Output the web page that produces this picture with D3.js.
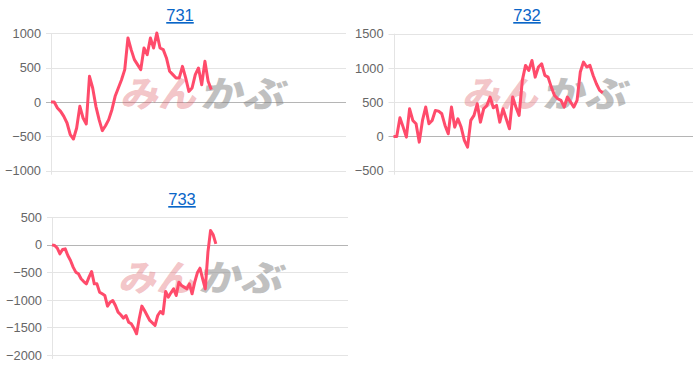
<!DOCTYPE html>
<html><head><meta charset="utf-8">
<script src="https://cdn.jsdelivr.net/npm/d3@7"></script>
<style>
html,body{margin:0;padding:0;background:#fff;}
svg{display:block;}
</style></head>
<body>
<svg id="c" width="700" height="368"></svg>
<script>
const titles = ["731", "732", "733"];
const values731 = [0,0,-87,-136,-209,-306,-476,-539,-379,-63,-233,-320,374,204,-63,-257,-417,-345,-257,-112,83,204,325,471,932,762,617,544,471,786,689,932,786,1005,786,762,641,447,398,350,350,519,350,155,204,398,495,252,592,301,180];
const values732 = [0,0,273,136,-10,404,234,185,-83,234,429,185,234,380,370,331,161,39,429,136,258,136,-58,-156,234,307,477,209,404,453,575,419,453,209,404,258,112,575,429,307,818,1037,964,1110,866,1013,1061,891,866,720,599,550,526,429,575,502,429,526,940,1086,1013,1037,891,769,672,637];
const values733 = [0,-12,-60,-163,-85,-73,-194,-284,-405,-496,-526,-617,-666,-708,-587,-484,-708,-708,-859,-889,-920,-1113,-1041,-1010,-1101,-1222,-1270,-1331,-1283,-1404,-1434,-1513,-1615,-1343,-1113,-1192,-1283,-1373,-1416,-1464,-1283,-1210,-1252,-847,-950,-871,-799,-920,-678,-738,-768,-799,-708,-889,-678,-508,-424,-617,-799,-133,260,182,18];
const yTicks731 = [-1000, -500, 0, 500, 1000];
const yTicks732 = [-500, 0, 500, 1000, 1500];
const yTicks733 = [-2000, -1500, -1000, -500, 0, 500];
const xCounts = [93, 94, 113];
const watermarkA = "みん";
const watermarkB = "かぶ";

const series = [values731, values732, values733];
const tickSets = [yTicks731, yTicks732, yTicks733];

// layout (pixels)
const panels = [
  {left: 51, right: 346, top: 33.3, bottom: 170.7, titleX: 180, titleY: 21, wmX: 120, wmY: 107},
  {left: 393.5, right: 693, top: 33.7, bottom: 170.7, titleX: 527, titleY: 21, wmX: 462, wmY: 107},
  {left: 52, right: 348, top: 217.3, bottom: 355, titleX: 182, titleY: 205, wmX: 118, wmY: 291}
];

const svg = d3.select("#c");

panels.forEach((p, i) => {
  const ticks = tickSets[i];
  const vals = series[i];
  const x = d3.scaleLinear().domain([0, xCounts[i] - 1]).range([p.left, p.right]);
  const y = d3.scaleLinear().domain([d3.min(ticks), d3.max(ticks)]).range([p.bottom, p.top]);
  const g = svg.append("g");

  // title
  g.append("text")
    .attr("x", p.titleX).attr("y", p.titleY)
    .attr("text-anchor", "middle")
    .attr("font-family", "Liberation Sans, Arial, sans-serif")
    .attr("font-size", 16.5)
    .attr("fill", "#0a66c8")
    .attr("text-decoration", "underline")
    .text(titles[i]);

  // gridlines
  g.selectAll("line.grid").data(ticks).enter().append("line")
    .attr("x1", p.left - 5).attr("x2", p.right)
    .attr("y1", d => Math.round(y(d)) + 0.5).attr("y2", d => Math.round(y(d)) + 0.5)
    .attr("stroke", d => d === 0 ? "#b5b5b5" : "#e4e4e4")
    .attr("stroke-width", 1);

  // y axis line
  g.append("line")
    .attr("x1", Math.round(p.left) + 0.5).attr("x2", Math.round(p.left) + 0.5)
    .attr("y1", p.top).attr("y2", p.bottom + 4)
    .attr("stroke", "#e4e4e4");

  // tick labels via axis
  const ax = g.append("g")
    .attr("transform", `translate(${p.left - 8},0)`)
    .call(d3.axisLeft(y).tickValues(ticks).tickSize(0).tickPadding(2).tickFormat(d3.format("d")));
  ax.select(".domain").remove();
  ax.selectAll("text")
    .attr("font-family", "Liberation Sans, Arial, sans-serif")
    .attr("font-size", 12.8)
    .attr("fill", "#666");

  // watermark
  const wm = g.append("g").attr("transform", `translate(${p.wmX},${p.wmY}) skewX(-12)`);
  wm.append("text")
    .attr("x", 0).attr("y", 0)
    .attr("font-family", "Noto Sans CJK JP, sans-serif")
    .attr("font-weight", "900")
    .attr("font-size", 36)
    .attr("textLength", 76).attr("lengthAdjust", "spacingAndGlyphs")
    .attr("fill", "rgba(222,90,100,0.36)")
    .text(watermarkA);
  wm.append("text")
    .attr("x", 80).attr("y", 0)
    .attr("font-family", "Noto Sans CJK JP, sans-serif")
    .attr("font-weight", "900")
    .attr("font-size", 36)
    .attr("textLength", 84).attr("lengthAdjust", "spacingAndGlyphs")
    .attr("fill", "rgba(130,130,130,0.5)")
    .text(watermarkB);

  // line
  const line = d3.line().x((d, j) => x(j)).y(d => y(d));
  g.append("path")
    .datum(vals)
    .attr("d", line)
    .attr("fill", "none")
    .attr("stroke", "#ff4b6b")
    .attr("stroke-width", 3)
    .attr("stroke-linejoin", "round");
});
</script>
</body></html>
